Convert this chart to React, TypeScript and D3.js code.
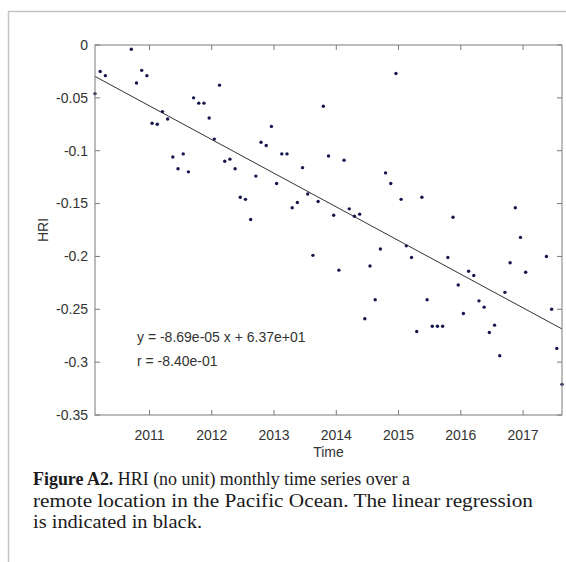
import React from "react";
import * as d3 from "d3";

const months: string[] = [
  "2010-02","2010-03","2010-04","2010-09","2010-10","2010-11","2010-12",
  "2011-01","2011-02","2011-03","2011-04","2011-05","2011-06","2011-07","2011-08","2011-09","2011-10","2011-11","2011-12",
  "2012-01","2012-02","2012-03","2012-04","2012-05","2012-06","2012-07","2012-08","2012-09","2012-10","2012-11","2012-12",
  "2013-01","2013-02","2013-03","2013-04","2013-05","2013-06","2013-07","2013-08","2013-09","2013-10","2013-11","2013-12",
  "2014-01","2014-02","2014-03","2014-04","2014-05","2014-06","2014-07","2014-08","2014-09","2014-10","2014-11","2014-12",
  "2015-01","2015-02","2015-03","2015-04","2015-05","2015-06","2015-07","2015-08","2015-09","2015-10","2015-11","2015-12",
  "2016-01","2016-02","2016-03","2016-04","2016-05","2016-06","2016-07","2016-08","2016-09","2016-10","2016-11","2016-12",
  "2017-01","2017-05","2017-06","2017-07","2017-08",
];
const hri: number[] = [
  -0.046, -0.025, -0.029, -0.004, -0.036, -0.024, -0.029,
  -0.074, -0.075, -0.063, -0.070, -0.106, -0.117, -0.103, -0.120, -0.050, -0.055, -0.055, -0.069,
  -0.089, -0.038, -0.110, -0.108, -0.117, -0.144, -0.146, -0.165, -0.124, -0.092, -0.095, -0.077,
  -0.131, -0.103, -0.103, -0.154, -0.149, -0.116, -0.141, -0.199, -0.148, -0.058, -0.105, -0.161,
  -0.213, -0.109, -0.155, -0.162, -0.160, -0.259, -0.209, -0.241, -0.193, -0.121, -0.131, -0.027,
  -0.146, -0.190, -0.201, -0.271, -0.144, -0.241, -0.266, -0.266, -0.266, -0.201, -0.163, -0.227,
  -0.254, -0.214, -0.218, -0.242, -0.248, -0.272, -0.265, -0.294, -0.234, -0.206, -0.154, -0.182,
  -0.215, -0.200, -0.250, -0.287, -0.321,
];
const yearTicks: number[] = [2011, 2012, 2013, 2014, 2015, 2016, 2017];
const yTicks: number[] = [0, -0.05, -0.1, -0.15, -0.2, -0.25, -0.3, -0.35];
const yTickLabels: string[] = ["0", "-0.05", "-0.1", "-0.15", "-0.2", "-0.25", "-0.3", "-0.35"];
const fitText: string[] = ["y = -8.69e-05 x + 6.37e+01", "r = -8.40e-01"];
const captionBold = "Figure A2.";
const captionLines: string[] = [
  " HRI (no unit) monthly time series over a",
  "remote location in the Pacific Ocean. The linear regression",
  "is indicated in black.",
];

const toYear = (s: string) => {
  const [y, m] = s.split("-").map(Number);
  return y + (m - 0.5) / 12;
};

export default function App() {
  const W = 566, H = 562;
  const L = 95, R = 562, T = 45, B = 415;
  const xs = months.map(toYear);
  const x = d3.scaleLinear().domain(d3.extent(xs) as [number, number]).range([L, R]);
  const y = d3.scaleLinear().domain([-0.35, 0]).range([B, T]);

  // least-squares regression
  const mx = d3.mean(xs)!, my = d3.mean(hri)!;
  let sxy = 0, sxx = 0;
  xs.forEach((v, i) => { sxy += (v - mx) * (hri[i] - my); sxx += (v - mx) * (v - mx); });
  const slope = sxy / sxx;
  const icpt = my - slope * mx;
  const [x0, x1] = x.domain();
  const line = d3.line<number>().x((d) => x(d)).y((d) => y(icpt + slope * d));

  const axisColor = "#7a7a7a";
  const textColor = "#333";
  const font = "Liberation Sans, Arial, sans-serif";
  const serif = "Liberation Serif, Times New Roman, serif";
  const tick = 5;

  return (
    <svg width={W} height={H} style={{ position: "absolute", left: 0, top: 0, background: "#fff" }}>
      {/* page frame */}
      <line x1={8.5} y1={11} x2={8.5} y2={H} stroke="#c4c4c4" strokeWidth={1.5} />
      <line x1={8} y1={11.5} x2={W} y2={11.5} stroke="#c4c4c4" strokeWidth={1.5} />

      {/* regression line */}
      <path d={line([x0, x1]) || ""} stroke="#333" strokeWidth={1} fill="none" />

      {/* points */}
      {xs.map((v, i) => (
        <circle key={i} cx={x(v)} cy={y(hri[i])} r={1.7} fill="#16164f" />
      ))}

      {/* box */}
      <rect x={L} y={T} width={R - L} height={B - T} fill="none" stroke={axisColor} strokeWidth={1} />
      {yearTicks.map((t) => (
        <g key={t}>
          <line x1={x(t)} x2={x(t)} y1={B} y2={B - tick} stroke={axisColor} />
          <line x1={x(t)} x2={x(t)} y1={T} y2={T + tick} stroke={axisColor} />
          <text x={x(t)} y={440} textAnchor="middle" fontFamily={font} fontSize={14} fill={textColor}>{t}</text>
        </g>
      ))}
      {yTicks.map((t, i) => (
        <g key={t}>
          <line x1={L} x2={L + tick} y1={y(t)} y2={y(t)} stroke={axisColor} />
          <line x1={R} x2={R - tick} y1={y(t)} y2={y(t)} stroke={axisColor} />
          <text x={88} y={y(t)} dy="0.35em" textAnchor="end" fontFamily={font} fontSize={14} fill={textColor}>{yTickLabels[i]}</text>
        </g>
      ))}
      <text x={(L + R) / 2} y={457} textAnchor="middle" fontFamily={font} fontSize={14} fill={textColor}>Time</text>
      <text transform={`translate(48,${(T + B) / 2}) rotate(-90)`} textAnchor="middle" fontFamily={font} fontSize={14} fill={textColor}>HRI</text>

      {/* fit annotation */}
      {fitText.map((s, i) => (
        <text key={i} x={137} y={342 + i * 24} fontFamily={font} fontSize={14} fill={textColor}>{s}</text>
      ))}

      {/* caption */}
      <text x={33} y={485} fontFamily={serif} fontSize={18} fill="#1a1a1a" textLength={377} lengthAdjust="spacingAndGlyphs">
        <tspan fontWeight="bold">{captionBold}</tspan>{captionLines[0]}
      </text>
      <text x={33} y={506.5} fontFamily={serif} fontSize={18} fill="#1a1a1a" textLength={500} lengthAdjust="spacingAndGlyphs">{captionLines[1]}</text>
      <text x={33} y={528} fontFamily={serif} fontSize={18} fill="#1a1a1a" textLength={169} lengthAdjust="spacingAndGlyphs">{captionLines[2]}</text>
    </svg>
  );
}
